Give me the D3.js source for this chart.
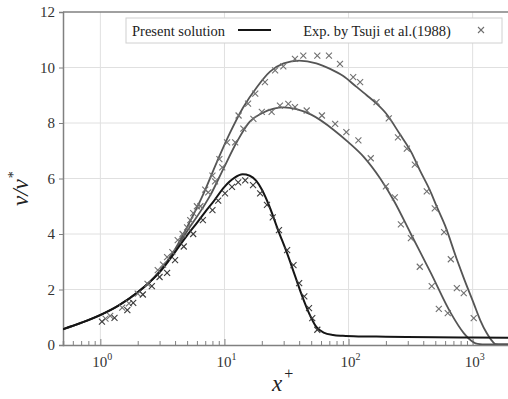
<!DOCTYPE html>
<html>
<head>
<meta charset="utf-8">
<script src="https://cdn.jsdelivr.net/npm/d3@7"></script>
<style>
  body { margin: 0; background: #fff; }
</style>
</head>
<body>
<div id="chart" style="width:508px;height:399px"></div>
<script>
// Present solution, three cases
const sol1X = [0.5, 0.7, 1, 1.4, 2, 2.5, 3, 4, 5, 6, 7, 8, 10, 12, 14, 16, 18, 20, 23, 27, 32, 37, 42, 48, 55, 63, 75, 90, 120, 200, 500, 1000, 2000];
const sol1Y = [0.57, 0.8, 1.08, 1.42, 1.9, 2.27, 2.62, 3.35, 3.95, 4.4, 4.8, 5.12, 5.7, 6.02, 6.15, 6.1, 5.92, 5.6, 5.0, 4.15, 3.3, 2.5, 1.8, 1.15, 0.65, 0.45, 0.36, 0.33, 0.31, 0.3, 0.28, 0.27, 0.26];

const sol2X = [0.5, 0.7, 1, 1.4, 2, 2.5, 3, 4, 5, 6.7, 7.7, 9.8, 12.7, 16, 20, 25, 30, 38, 50, 76, 100, 133, 180, 232, 318, 460, 667, 848, 1000, 1100, 1300, 2000];
const sol2Y = [0.57, 0.8, 1.08, 1.42, 1.9, 2.27, 2.65, 3.42, 4.1, 4.95, 5.4, 6.35, 7.35, 8.05, 8.35, 8.52, 8.56, 8.5, 8.3, 7.75, 7.3, 6.77, 6.0, 5.2, 4.0, 2.6, 1.15, 0.43, 0.12, 0.04, 0.02, 0.02];

const sol3X = [0.5, 0.7, 1, 1.4, 2, 2.5, 3, 4, 5, 6.7, 8.7, 11.1, 14.1, 18.3, 23.3, 30, 40, 55, 71, 90, 116, 140, 168, 200, 259, 320, 375, 450, 516, 600, 744, 850, 1020, 1150, 1298, 1450, 1535, 1700, 2000];
const sol3Y = [0.57, 0.8, 1.08, 1.42, 1.9, 2.27, 2.66, 3.45, 4.25, 5.4, 6.6, 7.65, 8.55, 9.3, 9.85, 10.15, 10.25, 10.15, 9.95, 9.7, 9.3, 9.0, 8.7, 8.35, 7.6, 6.95, 6.3, 5.6, 4.97, 4.3, 3.1, 2.4, 1.5, 0.9, 0.43, 0.12, 0.03, 0.02, 0.02];

// Exp. by Tsuji et al. (1988)
const exp1X = [1.03, 1.3, 1.65, 1.84, 2.2, 2.6, 3.0, 3.45, 4.0, 4.7, 5.6, 6.7, 8.0, 8.9, 10.1, 11.5, 12.9, 14.7, 17, 19.4, 22, 24.5, 27.5, 32, 36, 40, 44, 48, 51, 56];
const exp1Y = [0.84, 0.98, 1.26, 1.52, 1.82, 2.12, 2.45, 2.6, 3.06, 3.55, 4.0, 4.5, 4.86, 5.2, 5.46, 5.7, 5.86, 5.93, 5.76, 5.46, 5.05, 4.6, 4.14, 3.42, 2.88, 2.23, 1.75, 1.33, 0.97, 0.55];

const exp2X = [1.1, 1.5, 2.0, 2.9, 3.45, 4.2, 5.0, 5.6, 6.4, 7.4, 8.4, 9.6, 12.2, 14.2, 17.1, 20, 24, 28, 32.7, 37, 46, 61, 78, 96, 120, 151, 200, 236, 264, 318, 375, 468, 534, 630];
const exp2Y = [0.95, 1.35, 1.85, 2.7, 3.17, 3.78, 4.24, 4.75, 5.0, 5.5, 5.9, 6.4, 7.3, 7.8, 8.15, 8.4, 8.4, 8.63, 8.69, 8.57, 8.45, 8.27, 7.97, 7.67, 7.37, 6.73, 5.72, 5.32, 4.35, 3.85, 2.82, 2.12, 1.3, 1.15];

const exp3X = [1.2, 1.7, 2.4, 3.2, 3.8, 4.6, 5.3, 6.0, 7.0, 8.0, 9.1, 10.5, 13, 15.5, 17.7, 21.2, 25.6, 29.8, 37, 43.2, 56, 69.5, 85.3, 109, 124, 168, 211, 250, 295, 342, 427, 495, 589, 667, 746, 848, 1020];
const exp3Y = [1.05, 1.5, 2.2, 2.9, 3.35, 4.0, 4.5, 5.0, 5.6, 6.1, 6.7, 7.3, 8.27, 8.7, 9.06, 9.47, 9.9, 10.04, 10.31, 10.43, 10.43, 10.43, 10.13, 9.65, 9.47, 8.75, 8.17, 7.48, 7.08, 6.5, 5.54, 4.92, 4.07, 3.09, 2.05, 1.87, 0.97];

const xDecades = [1, 10, 100, 1000];
const xExponents = ["0", "1", "2", "3"];
const yTicks = [0, 2, 4, 6, 8, 10, 12];

const serif = "'Liberation Serif'";
const zip = (xs, ys) => xs.map((x, i) => ({ x: x, y: ys[i] }));

function chart() {
  const width = 508;
  const height = 399;
  const marginLeft = 63;
  const marginTop = 12;
  const plotRight = 510;
  const plotBottom = 345;

  const xScale = d3.scaleLog().domain([0.5, 2000]).range([marginLeft, plotRight]);
  const yScale = d3.scaleLinear().domain([0, 12]).range([plotBottom, marginTop]);

  const svg = d3.select("#chart").append("svg")
    .attr("width", width)
    .attr("height", height);

  svg.append("defs").append("clipPath").attr("id", "clip")
    .append("rect")
    .attr("x", marginLeft).attr("y", marginTop)
    .attr("width", width - marginLeft).attr("height", plotBottom - marginTop);

  // grid
  const grid = svg.append("g").attr("stroke", "#e0e0e0").attr("stroke-width", 1);
  grid.selectAll(".vg").data(xDecades).join("line")
    .attr("x1", (d) => xScale(d)).attr("x2", (d) => xScale(d))
    .attr("y1", marginTop).attr("y2", plotBottom);
  grid.selectAll(".hg").data(yTicks.slice(1, -1)).join("line")
    .attr("x1", marginLeft).attr("x2", width)
    .attr("y1", (d) => yScale(d)).attr("y2", (d) => yScale(d));

  // axes
  const yaxis = d3.axisLeft(yScale).tickValues(yTicks).tickSize(4).tickPadding(4);
  const gy = svg.append("g").attr("transform", `translate(${marginLeft},0)`).call(yaxis);
  gy.select(".domain").attr("stroke", "#808080").attr("stroke-width", 1.5);
  gy.selectAll(".tick line").attr("stroke", "#808080");
  gy.selectAll(".tick text")
    .style("font-family", serif)
    .attr("font-size", 15).attr("fill", "#333");

  const minor = [];
  [0.1, 1, 10, 100, 1000].forEach((base) => {
    for (let k = 1; k <= 9; k++) {
      const v = base * k;
      if (v >= 0.5 && v <= 2000) minor.push(v);
    }
  });
  const xaxis = d3.axisBottom(xScale).tickValues(minor).tickSize(-4).tickFormat("");
  const gx = svg.append("g").attr("transform", `translate(0,${plotBottom})`).call(xaxis);
  gx.select(".domain").attr("stroke", "#808080").attr("stroke-width", 1.5);
  gx.selectAll(".tick line").attr("stroke", "#808080")
    .attr("y2", (d) => (xDecades.includes(d) ? -6 : -4));

  svg.append("line")
    .attr("x1", marginLeft).attr("x2", width)
    .attr("y1", marginTop).attr("y2", marginTop)
    .attr("stroke", "#808080").attr("stroke-width", 1.5);

  const xl = svg.append("g").selectAll("text").data(xDecades).join("text")
    .attr("x", (d) => xScale(d) - 8)
    .attr("y", 367)
    .style("font-family", serif)
    .attr("font-size", 15).attr("fill", "#333");
  xl.append("tspan").text("10");
  xl.append("tspan").attr("dy", -7).attr("font-size", 10).text((d, i) => xExponents[i]);

  // axis titles
  const xt = svg.append("text").attr("x", 272).attr("y", 391)
    .style("font-family", serif)
    .attr("font-size", 23).attr("font-style", "italic").attr("fill", "#222");
  xt.append("tspan").text("x");
  xt.append("tspan").attr("dy", -12).attr("dx", 2).attr("font-size", 16).attr("font-style", "normal").text("+");

  const yt = svg.append("text")
    .attr("transform", "translate(28,206) rotate(-90)")
    .style("font-family", serif)
    .attr("font-size", 23).attr("font-style", "italic").attr("fill", "#222");
  yt.append("tspan").text("v/v");
  yt.append("tspan").attr("dy", -10).attr("dx", 1).attr("font-size", 14).attr("font-style", "normal").text("*");

  // curves
  const line = d3.line()
    .x((d) => xScale(d.x))
    .y((d) => yScale(d.y))
    .curve(d3.curveMonotoneX);

  const plot = svg.append("g").attr("clip-path", "url(#clip)");
  const curves = [
    { data: zip(sol3X, sol3Y), color: "#555", w: 1.8 },
    { data: zip(sol2X, sol2Y), color: "#555", w: 1.8 },
    { data: zip(sol1X, sol1Y), color: "#151515", w: 2 },
  ];
  plot.selectAll(".sol").data(curves).join("path")
    .attr("d", (d) => line(d.data))
    .attr("fill", "none")
    .attr("stroke", (d) => d.color)
    .attr("stroke-width", (d) => d.w);

  // markers
  const cross = (sel, color) => {
    sel.append("line").attr("x1", -3).attr("y1", -3).attr("x2", 3).attr("y2", 3);
    sel.append("line").attr("x1", -3).attr("y1", 3).attr("x2", 3).attr("y2", -3);
    sel.attr("stroke", color).attr("stroke-width", 1.1);
  };
  const expSets = [
    { data: zip(exp2X, exp2Y), color: "#707070" },
    { data: zip(exp3X, exp3Y), color: "#707070" },
    { data: zip(exp1X, exp1Y), color: "#3a3a3a" },
  ];
  expSets.forEach((s) => {
    plot.append("g").selectAll("g").data(s.data).join("g")
      .attr("transform", (d) => `translate(${xScale(d.x)},${yScale(d.y)})`)
      .call(cross, s.color);
  });

  // legend
  const lg = svg.append("g");
  lg.append("rect").attr("x", 126).attr("y", 18).attr("width", 376).attr("height", 25)
    .attr("fill", "#fff").attr("stroke", "#d0d0d0").attr("stroke-width", 1);
  lg.append("text").attr("x", 132).attr("y", 35.5).attr("font-size", 14.5).attr("fill", "#222")
    .style("font-family", serif)
    .text("Present solution");
  lg.append("line").attr("x1", 238).attr("x2", 271).attr("y1", 30).attr("y2", 30)
    .attr("stroke", "#151515").attr("stroke-width", 2);
  lg.append("text").attr("x", 377).attr("y", 35.5).attr("font-size", 14.5).attr("fill", "#222")
    .attr("text-anchor", "middle")
    .style("font-family", serif)
    .text("Exp. by Tsuji et al.(1988)");
  lg.append("g").attr("transform", "translate(481,30)").call(cross, "#707070");
}

chart();
</script>
</body>
</html>
